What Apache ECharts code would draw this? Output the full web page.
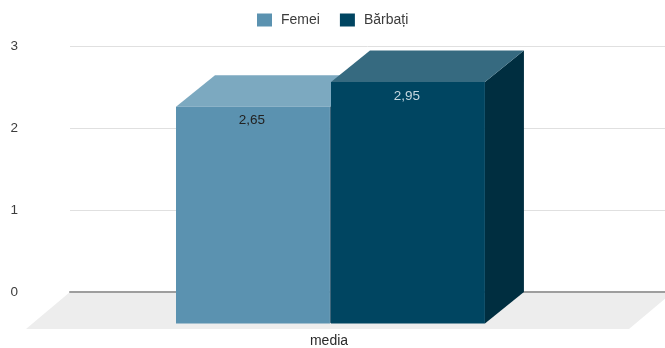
<!DOCTYPE html>
<html>
<head>
<meta charset="utf-8">
<style>html,body{margin:0;padding:0;background:#fff}#c{width:665px;height:348px}</style>
<script src="https://cdn.jsdelivr.net/npm/echarts@6/dist/echarts.min.js"></script>
</head>
<body>
<div id="c"></div>
<script>
var categories = ['media'];
var femei = [2.65];
var barbati = [2.95];
var yTicks = [0, 1, 2, 3];

var FONT = '"Liberation Sans", Arial, sans-serif';
var DX = 39, DY = 31.5;

function barRenderer(startOffset, front, top, side, labelColor) {
  return function (params, api) {
    var cat = api.value(0), val = api.value(1);
    var t = api.coord([cat, val]);
    var b = api.coord([cat, 0]);
    var w = api.size([1, 0])[0] * 0.2587;
    var x0 = t[0] + startOffset, x1 = x0 + w;
    var yT = t[1] + DY, yB = b[1] + DY;
    return {
      type: 'group',
      children: [
        { type: 'polygon', shape: { points: [[x1, yT], [x1 + DX, yT - DY], [x1 + DX, yB - DY], [x1, yB]] }, style: { fill: side } },
        { type: 'polygon', shape: { points: [[x0, yT], [x0 + DX, yT - DY], [x1 + DX, yT - DY], [x1, yT]] }, style: { fill: top } },
        { type: 'rect', shape: { x: x0, y: yT, width: w, height: yB - yT }, style: { fill: front } },
        { type: 'text', style: {
            x: (x0 + x1) / 2 - 1, y: yT + 14,
            text: val.toFixed(2).replace('.', ','),
            fill: labelColor, font: '13.5px ' + FONT, align: 'center', verticalAlign: 'middle'
          } }
      ]
    };
  };
}

function floorRenderer(params, api) {
  var cs = params.coordSys;
  var l = cs.x, r = cs.x + cs.width, y = api.coord([0, 0])[1];
  return {
    type: 'polygon',
    shape: { points: [[l, y], [r + 8, y], [r + 8 - 44, y + 37], [l - 44, y + 37]] },
    style: { fill: '#ededed' }
  };
}

var chart = echarts.init(document.getElementById('c'), null, { renderer: 'canvas' });
chart.setOption({
  animation: false,
  backgroundColor: '#ffffff',
  grid: { left: 70, right: 0, top: 46.5, bottom: 55.5 },
  legend: {
    data: ['Femei', 'Bărbați'],
    left: 252, top: 8,
    icon: 'rect',
    itemWidth: 15, itemHeight: 13, itemGap: 20,
    textStyle: { fontFamily: FONT, fontSize: 14, color: '#3c3c3c', padding: [0, 0, 0, 4] }
  },
  xAxis: {
    type: 'category',
    data: categories,
    z: 3,
    axisTick: { show: false },
    axisLine: { lineStyle: { color: '#9e9e9e', width: 2 } },
    axisLabel: { margin: 42, fontFamily: FONT, fontSize: 14, color: '#2a2a2a', padding: [0, 77, 0, 0] }
  },
  yAxis: {
    type: 'value', min: yTicks[0], max: yTicks[yTicks.length - 1], interval: 1,
    axisLine: { show: false }, axisTick: { show: false },
    splitLine: { lineStyle: { color: '#e0e0e0', width: 1 } },
    axisLabel: { margin: 52, align: 'right', fontFamily: FONT, fontSize: 13.5, color: '#3c3c3c' }
  },
  series: [
    { type: 'custom', name: 'floor', z: 1, silent: true, clip: false, coordinateSystem: 'cartesian2d',
      data: [[0, 0]], encode: { x: 0, y: 1 }, renderItem: floorRenderer },
    { type: 'custom', name: 'Femei', z: 5, clip: false, itemStyle: { color: '#5b92b0' },
      data: femei.map(function (v, i) { return [i, v]; }), encode: { x: 0, y: 1 },
      renderItem: barRenderer(-191.5, '#5b92b0', '#7ca9c0', '#3f667b', '#222222') },
    { type: 'custom', name: 'Bărbați', z: 6, clip: false, itemStyle: { color: '#004561' },
      data: barbati.map(function (v, i) { return [i, v]; }), encode: { x: 0, y: 1 },
      renderItem: barRenderer(-36.5, '#004561', '#366a80', '#002e40', '#c5d7df') }
  ]
});
</script>
</body>
</html>
